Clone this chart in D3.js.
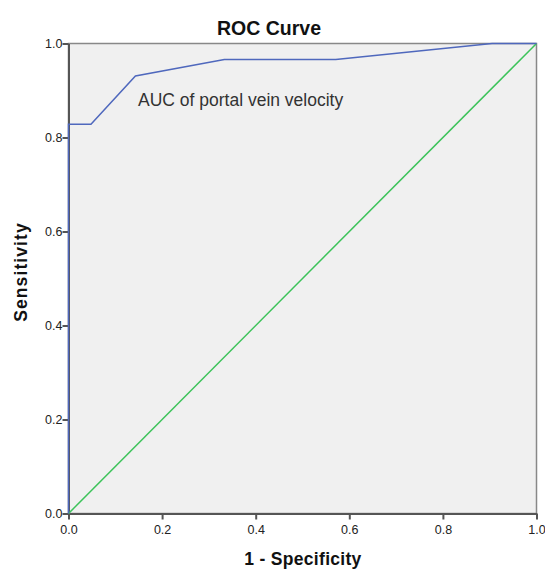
<!DOCTYPE html>
<html><head><meta charset="utf-8">
<script src="https://cdn.jsdelivr.net/npm/d3@7"></script>
<style>body{margin:0;background:#fff}</style>
</head><body>
<svg id="c" width="545" height="570"></svg>
<script>
const fpr = [0, 0, 0.048, 0.143, 0.333, 0.571, 0.905, 1.0];
const tpr = [0, 0.828, 0.828, 0.931, 0.966, 0.966, 1.0, 1.0];
const refX = [0, 1];
const refY = [0, 1];
const ticks = [0, 0.2, 0.4, 0.6, 0.8, 1.0];
const title = "ROC Curve";
const xLabel = "1 - Specificity";
const yLabel = "Sensitivity";
const note = "AUC of portal vein velocity";

const svg = d3.select("#c");
const L = 68.5, R = 536.5, T = 43.5, B = 513.5;
const x = d3.scaleLinear().domain([0, 1]).range([L, R]);
const y = d3.scaleLinear().domain([0, 1]).range([B, T]);
const font = "Liberation Sans, Arial, sans-serif";

svg.append("rect").attr("x", L).attr("y", T).attr("width", R - L).attr("height", B - T)
  .attr("fill", "#f0f0f0").attr("stroke", "#888").attr("stroke-width", 1.5);

const xa = svg.append("g").attr("transform", `translate(0,${B})`)
  .call(d3.axisBottom(x).tickValues(ticks).tickFormat(d3.format(".1f")).tickSize(6).tickSizeOuter(0));
const ya = svg.append("g").attr("transform", `translate(${L},0)`)
  .call(d3.axisLeft(y).tickValues(ticks).tickFormat(d3.format(".1f")).tickSize(6).tickSizeOuter(0));
[xa, ya].forEach(g => {
  g.select(".domain").attr("stroke", "#555").attr("stroke-width", 2);
  g.selectAll(".tick line").attr("stroke", "#555").attr("stroke-width", 2);
  g.selectAll(".tick text").attr("font-family", font).attr("font-size", 12.5).attr("fill", "#222");
});
xa.selectAll(".tick text").attr("dy", "0.95em");
ya.selectAll(".tick text").attr("x", -6);

const line = d3.line().x(d => x(d[0])).y(d => y(d[1]));
svg.append("path").datum(refX.map((v, i) => [v, refY[i]]))
  .attr("d", line).attr("fill", "none").attr("stroke", "#3cc35a").attr("stroke-width", 1.5);
svg.append("path").datum(fpr.map((v, i) => [v, tpr[i]]))
  .attr("d", line).attr("fill", "none").attr("stroke", "#4f68bd").attr("stroke-width", 1.5);

svg.append("text").attr("x", 269).attr("y", 35).attr("text-anchor", "middle")
  .attr("font-family", font).attr("font-weight", "bold").attr("font-size", 19.5).attr("fill", "#111").text(title);
svg.append("text").attr("x", 303).attr("y", 565).attr("text-anchor", "middle")
  .attr("font-family", font).attr("font-weight", "bold").attr("font-size", 17.5)
  .attr("letter-spacing", 0.3).attr("fill", "#111").text(xLabel);
svg.append("text").attr("transform", "translate(27,272) rotate(-90)").attr("text-anchor", "middle")
  .attr("font-family", font).attr("font-weight", "bold").attr("font-size", 17.5)
  .attr("letter-spacing", 1.1).attr("fill", "#111").text(yLabel);
svg.append("text").attr("x", 138).attr("y", 106)
  .attr("font-family", font).attr("font-size", 17.5).attr("fill", "#333").text(note);
</script>
</body></html>
